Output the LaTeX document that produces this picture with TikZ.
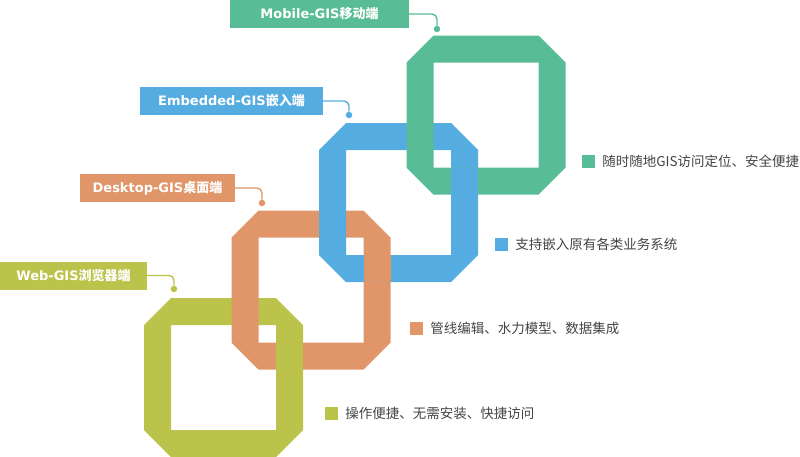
\documentclass[tikz,border=0pt]{standalone}
\usepackage{fontspec}
\setmainfont{Noto Sans CJK SC}
\newfontfamily\latinbold{DejaVu Sans}
\usetikzlibrary{positioning}
\definecolor{gisGreen}{HTML}{58BD96}
\definecolor{gisBlue}{HTML}{55ACE1}
\definecolor{gisOrange}{HTML}{E09669}
\definecolor{gisOlive}{HTML}{BBC34B}
\definecolor{gisText}{HTML}{444444}
\tikzset{
    gistag/.style={rectangle, inner sep=0pt, minimum height=28pt, text=white, font=\fontsize{13}{15}\selectfont\bfseries},
    leader/.style={line width=1.4pt, rounded corners=5pt},
    leaderdot/.style={circle, inner sep=0pt, minimum size=6.5pt},
    keybox/.style={rectangle, inner sep=0pt, minimum size=13pt},
    keytext/.style={font=\fontsize{13.5}{16}\selectfont, text=gisText, inner sep=0pt}
}
% ring: outer octagon with a square hole, top left corner at (#1,#2)
\newcommand{\gisring}[3]{%
    \fill[#3, even odd rule] (#1,#2) ++(27,0) -- ++(105,0) -- ++(27,27) -- ++(0,105) -- ++(-27,27) -- ++(-105,0) -- ++(-27,-27) -- ++(0,-105) -- cycle
        (#1,#2) ++(27,27) rectangle ++(105,105);
}

\begin{document}
\begin{tikzpicture}[x=1pt, y=-1pt]
\useasboundingbox (0,0) rectangle (800,456);

% rings, lower left first
\gisring{144}{298}{gisOlive}
\gisring{231.5}{210.5}{gisOrange}
\gisring{319}{123}{gisBlue}
\gisring{406.5}{35.5}{gisGreen}
% crossings where the lower ring passes over
\fill[gisOlive] (276,342.5) rectangle ++(27,27);
\fill[gisOrange] (363.5,255) rectangle ++(27,27);
\fill[gisBlue] (451,167.5) rectangle ++(27,27);

% tags
\node[gistag, fill=gisGreen, minimum width=179pt] (mobileTag) at (319.5,14) {{\latinbold Mobile-GIS}移动端};
\node[gistag, fill=gisBlue, minimum width=183pt] (embedTag) at (231.5,101) {{\latinbold Embedded-GIS}嵌入端};
\node[gistag, fill=gisOrange, minimum width=155pt] (deskTag) at (157.5,188) {{\latinbold Desktop-GIS}桌面端};
\node[gistag, fill=gisOlive, minimum width=147pt] (webTag) at (73.5,275.5) {{\latinbold Web-GIS}浏览器端};

\node[leaderdot, fill=gisGreen] (mobileDot) at (437,29) {};
\node[leaderdot, fill=gisBlue] (embedDot) at (349,115) {};
\node[leaderdot, fill=gisOrange] (deskDot) at (262,203) {};
\node[leaderdot, fill=gisOlive] (webDot) at (174,289) {};

\draw[leader, gisGreen] (mobileTag.east) -| (mobileDot);
\draw[leader, gisBlue] (embedTag.east) -| (embedDot);
\draw[leader, gisOrange] (deskTag.east) -| (deskDot);
\draw[leader, gisOlive] (webTag.east) -| (webDot);

% notes
\node[keybox, fill=gisGreen] (mobileKey) at (588.5,161) {};
\node[keytext, right=7pt of mobileKey] (mobileNote) {随时随地GIS访问定位、安全便捷};
\node[keybox, fill=gisBlue] (embedKey) at (501.5,244.5) {};
\node[keytext, right=7pt of embedKey] (embedNote) {支持嵌入原有各类业务系统};
\node[keybox, fill=gisOrange] (deskKey) at (416.5,328.5) {};
\node[keytext, right=7pt of deskKey] (deskNote) {管线编辑、水力模型、数据集成};
\node[keybox, fill=gisOlive] (webKey) at (331.5,413.5) {};
\node[keytext, right=7pt of webKey] (webNote) {操作便捷、无需安装、快捷访问};
\end{tikzpicture}
\end{document}
